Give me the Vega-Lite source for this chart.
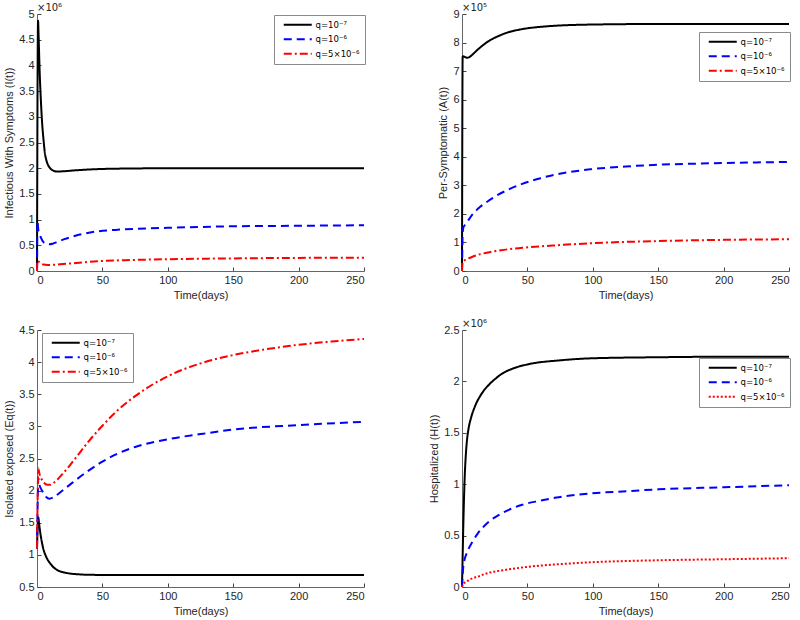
{
  "$schema": "https://vega.github.io/schema/vega-lite/v6.json",
  "background": "white",
  "padding": {"left": 3, "top": 3, "right": 2, "bottom": 2},
  "config": {
    "font": "Liberation Sans",
    "view": {"stroke": null},
    "axis": {"grid": false, "domainColor": "#666666", "tickColor": "#444444", "labelColor": "#262626", "titleColor": "#262626", "labelFontSize": 11, "titleFontSize": 11, "titleFontWeight": "normal", "tickSize": -4, "labelPadding": 7},
    "legend": {"orient": "none", "strokeColor": "#8a8a8a", "fillColor": "white", "padding": 5, "labelFont": "DejaVu Sans Condensed, DejaVu Sans", "labelFontSize": 9.5, "labelColor": "#000000", "symbolType": "M0,0H28", "symbolSize": 4, "symbolStrokeWidth": 2, "labelOffset": 27, "rowPadding": 3.5, "cornerRadius": 0},
    "title": {"font": "DejaVu Sans", "fontSize": 10, "fontWeight": "normal", "anchor": "start", "frame": "group", "color": "#262626", "offset": -5},
    "line": {"strokeWidth": 2, "interpolate": "monotone"}
  },
  "datasets": {
    "pI": [
      {"t":0,"q":"q=10⁻⁷","v":0},{"t":0.4,"q":"q=10⁻⁷","v":3.5},{"t":0.8,"q":"q=10⁻⁷","v":4.87},{"t":1.2,"q":"q=10⁻⁷","v":4.6},{"t":2,"q":"q=10⁻⁷","v":3.9},{"t":3,"q":"q=10⁻⁷","v":3.3},{"t":4,"q":"q=10⁻⁷","v":2.85},{"t":5,"q":"q=10⁻⁷","v":2.55},{"t":6,"q":"q=10⁻⁷","v":2.3},{"t":7,"q":"q=10⁻⁷","v":2.17},{"t":8,"q":"q=10⁻⁷","v":2.09},{"t":10,"q":"q=10⁻⁷","v":2.0},{"t":12,"q":"q=10⁻⁷","v":1.96},{"t":15,"q":"q=10⁻⁷","v":1.935},{"t":20,"q":"q=10⁻⁷","v":1.94},{"t":30,"q":"q=10⁻⁷","v":1.96},{"t":50,"q":"q=10⁻⁷","v":1.985},{"t":75,"q":"q=10⁻⁷","v":1.995},{"t":100,"q":"q=10⁻⁷","v":2.0},{"t":150,"q":"q=10⁻⁷","v":2.0},{"t":200,"q":"q=10⁻⁷","v":2.0},{"t":250,"q":"q=10⁻⁷","v":2.0},
      {"t":0,"q":"q=10⁻⁶","v":0},{"t":0.4,"q":"q=10⁻⁶","v":0.97},{"t":1,"q":"q=10⁻⁶","v":0.8},{"t":2,"q":"q=10⁻⁶","v":0.72},{"t":3,"q":"q=10⁻⁶","v":0.65},{"t":5,"q":"q=10⁻⁶","v":0.56},{"t":7,"q":"q=10⁻⁶","v":0.53},{"t":9.5,"q":"q=10⁻⁶","v":0.52},{"t":12,"q":"q=10⁻⁶","v":0.53},{"t":16,"q":"q=10⁻⁶","v":0.57},{"t":21,"q":"q=10⁻⁶","v":0.62},{"t":30,"q":"q=10⁻⁶","v":0.69},{"t":46,"q":"q=10⁻⁶","v":0.77},{"t":60,"q":"q=10⁻⁶","v":0.8},{"t":75,"q":"q=10⁻⁶","v":0.82},{"t":100,"q":"q=10⁻⁶","v":0.84},{"t":150,"q":"q=10⁻⁶","v":0.87},{"t":200,"q":"q=10⁻⁶","v":0.88},{"t":250,"q":"q=10⁻⁶","v":0.89},
      {"t":0,"q":"q=5×10⁻⁶","v":0},{"t":0.4,"q":"q=5×10⁻⁶","v":0.2},{"t":1,"q":"q=5×10⁻⁶","v":0.19},{"t":2,"q":"q=5×10⁻⁶","v":0.17},{"t":3,"q":"q=5×10⁻⁶","v":0.15},{"t":5,"q":"q=5×10⁻⁶","v":0.125},{"t":8,"q":"q=5×10⁻⁶","v":0.118},{"t":12,"q":"q=5×10⁻⁶","v":0.12},{"t":20,"q":"q=5×10⁻⁶","v":0.135},{"t":30,"q":"q=5×10⁻⁶","v":0.155},{"t":46,"q":"q=5×10⁻⁶","v":0.19},{"t":75,"q":"q=5×10⁻⁶","v":0.215},{"t":100,"q":"q=5×10⁻⁶","v":0.23},{"t":150,"q":"q=5×10⁻⁶","v":0.245},{"t":200,"q":"q=5×10⁻⁶","v":0.255},{"t":250,"q":"q=5×10⁻⁶","v":0.26}
    ],
    "pA": [
      {"t":0,"q":"q=10⁻⁷","v":0},{"t":0.5,"q":"q=10⁻⁷","v":7.5},{"t":1,"q":"q=10⁻⁷","v":7.52},{"t":2,"q":"q=10⁻⁷","v":7.5},{"t":4,"q":"q=10⁻⁷","v":7.47},{"t":6,"q":"q=10⁻⁷","v":7.5},{"t":8,"q":"q=10⁻⁷","v":7.58},{"t":11,"q":"q=10⁻⁷","v":7.71},{"t":15,"q":"q=10⁻⁷","v":7.87},{"t":21,"q":"q=10⁻⁷","v":8.07},{"t":28,"q":"q=10⁻⁷","v":8.23},{"t":34,"q":"q=10⁻⁷","v":8.34},{"t":46,"q":"q=10⁻⁷","v":8.47},{"t":60,"q":"q=10⁻⁷","v":8.55},{"t":72,"q":"q=10⁻⁷","v":8.59},{"t":98,"q":"q=10⁻⁷","v":8.63},{"t":150,"q":"q=10⁻⁷","v":8.65},{"t":250,"q":"q=10⁻⁷","v":8.65},
      {"t":0,"q":"q=10⁻⁶","v":0},{"t":0.5,"q":"q=10⁻⁶","v":1.3},{"t":1,"q":"q=10⁻⁶","v":1.52},{"t":3,"q":"q=10⁻⁶","v":1.65},{"t":8,"q":"q=10⁻⁶","v":1.98},{"t":14,"q":"q=10⁻⁶","v":2.25},{"t":21,"q":"q=10⁻⁶","v":2.48},{"t":28,"q":"q=10⁻⁶","v":2.68},{"t":34,"q":"q=10⁻⁶","v":2.82},{"t":46,"q":"q=10⁻⁶","v":3.05},{"t":60,"q":"q=10⁻⁶","v":3.25},{"t":72,"q":"q=10⁻⁶","v":3.38},{"t":98,"q":"q=10⁻⁶","v":3.56},{"t":125,"q":"q=10⁻⁶","v":3.66},{"t":150,"q":"q=10⁻⁶","v":3.72},{"t":200,"q":"q=10⁻⁶","v":3.78},{"t":250,"q":"q=10⁻⁶","v":3.82},
      {"t":0,"q":"q=5×10⁻⁶","v":0},{"t":0.5,"q":"q=5×10⁻⁶","v":0.33},{"t":1,"q":"q=5×10⁻⁶","v":0.35},{"t":3,"q":"q=5×10⁻⁶","v":0.4},{"t":8,"q":"q=5×10⁻⁶","v":0.5},{"t":14,"q":"q=5×10⁻⁶","v":0.59},{"t":21,"q":"q=5×10⁻⁶","v":0.66},{"t":30,"q":"q=5×10⁻⁶","v":0.73},{"t":46,"q":"q=5×10⁻⁶","v":0.81},{"t":72,"q":"q=5×10⁻⁶","v":0.9},{"t":98,"q":"q=5×10⁻⁶","v":0.97},{"t":150,"q":"q=5×10⁻⁶","v":1.05},{"t":200,"q":"q=5×10⁻⁶","v":1.09},{"t":250,"q":"q=5×10⁻⁶","v":1.11}
    ],
    "pE": [
      {"t":0,"q":"q=10⁻⁷","v":1.1},{"t":0.5,"q":"q=10⁻⁷","v":1.45},{"t":1,"q":"q=10⁻⁷","v":1.58},{"t":1.5,"q":"q=10⁻⁷","v":1.5},{"t":2,"q":"q=10⁻⁷","v":1.42},{"t":3,"q":"q=10⁻⁷","v":1.28},{"t":4,"q":"q=10⁻⁷","v":1.17},{"t":5,"q":"q=10⁻⁷","v":1.08},{"t":6,"q":"q=10⁻⁷","v":1.02},{"t":8,"q":"q=10⁻⁷","v":0.93},{"t":10,"q":"q=10⁻⁷","v":0.87},{"t":12,"q":"q=10⁻⁷","v":0.82},{"t":15,"q":"q=10⁻⁷","v":0.77},{"t":20,"q":"q=10⁻⁷","v":0.73},{"t":25,"q":"q=10⁻⁷","v":0.71},{"t":30,"q":"q=10⁻⁷","v":0.7},{"t":40,"q":"q=10⁻⁷","v":0.69},{"t":50,"q":"q=10⁻⁷","v":0.688},{"t":100,"q":"q=10⁻⁷","v":0.687},{"t":250,"q":"q=10⁻⁷","v":0.687},
      {"t":0,"q":"q=10⁻⁶","v":1.1},{"t":0.5,"q":"q=10⁻⁶","v":1.8},{"t":1,"q":"q=10⁻⁶","v":2.2},{"t":1.5,"q":"q=10⁻⁶","v":2.12},{"t":2,"q":"q=10⁻⁶","v":2.08},{"t":3,"q":"q=10⁻⁶","v":2.03},{"t":5,"q":"q=10⁻⁶","v":1.96},{"t":7,"q":"q=10⁻⁶","v":1.9},{"t":9.5,"q":"q=10⁻⁶","v":1.875},{"t":12,"q":"q=10⁻⁶","v":1.89},{"t":15,"q":"q=10⁻⁶","v":1.93},{"t":20,"q":"q=10⁻⁶","v":2.01},{"t":25,"q":"q=10⁻⁶","v":2.09},{"t":30,"q":"q=10⁻⁶","v":2.17},{"t":40,"q":"q=10⁻⁶","v":2.32},{"t":50,"q":"q=10⁻⁶","v":2.45},{"t":60,"q":"q=10⁻⁶","v":2.56},{"t":75,"q":"q=10⁻⁶","v":2.68},{"t":100,"q":"q=10⁻⁶","v":2.8},{"t":125,"q":"q=10⁻⁶","v":2.88},{"t":150,"q":"q=10⁻⁶","v":2.95},{"t":200,"q":"q=10⁻⁶","v":3.02},{"t":250,"q":"q=10⁻⁶","v":3.07},
      {"t":0,"q":"q=5×10⁻⁶","v":1.1},{"t":0.5,"q":"q=5×10⁻⁶","v":1.9},{"t":1,"q":"q=5×10⁻⁶","v":2.35},{"t":1.5,"q":"q=5×10⁻⁶","v":2.3},{"t":2,"q":"q=5×10⁻⁶","v":2.25},{"t":3,"q":"q=5×10⁻⁶","v":2.2},{"t":5,"q":"q=5×10⁻⁶","v":2.13},{"t":8,"q":"q=5×10⁻⁶","v":2.09},{"t":10,"q":"q=5×10⁻⁶","v":2.09},{"t":12,"q":"q=5×10⁻⁶","v":2.11},{"t":15,"q":"q=5×10⁻⁶","v":2.16},{"t":20,"q":"q=5×10⁻⁶","v":2.27},{"t":25,"q":"q=5×10⁻⁶","v":2.39},{"t":30,"q":"q=5×10⁻⁶","v":2.52},{"t":40,"q":"q=5×10⁻⁶","v":2.78},{"t":50,"q":"q=5×10⁻⁶","v":3.01},{"t":60,"q":"q=5×10⁻⁶","v":3.22},{"t":75,"q":"q=5×10⁻⁶","v":3.47},{"t":100,"q":"q=5×10⁻⁶","v":3.78},{"t":125,"q":"q=5×10⁻⁶","v":3.98},{"t":150,"q":"q=5×10⁻⁶","v":4.11},{"t":175,"q":"q=5×10⁻⁶","v":4.2},{"t":200,"q":"q=5×10⁻⁶","v":4.27},{"t":225,"q":"q=5×10⁻⁶","v":4.32},{"t":250,"q":"q=5×10⁻⁶","v":4.36}
    ],
    "pH": [
      {"t":0,"q":"q=10⁻⁷","v":0},{"t":0.5,"q":"q=10⁻⁷","v":0.3},{"t":1,"q":"q=10⁻⁷","v":0.6},{"t":1.5,"q":"q=10⁻⁷","v":0.85},{"t":2,"q":"q=10⁻⁷","v":1.05},{"t":3,"q":"q=10⁻⁷","v":1.3},{"t":4,"q":"q=10⁻⁷","v":1.45},{"t":5,"q":"q=10⁻⁷","v":1.54},{"t":7,"q":"q=10⁻⁷","v":1.65},{"t":10,"q":"q=10⁻⁷","v":1.76},{"t":15,"q":"q=10⁻⁷","v":1.88},{"t":20,"q":"q=10⁻⁷","v":1.96},{"t":25,"q":"q=10⁻⁷","v":2.02},{"t":30,"q":"q=10⁻⁷","v":2.07},{"t":40,"q":"q=10⁻⁷","v":2.13},{"t":50,"q":"q=10⁻⁷","v":2.165},{"t":75,"q":"q=10⁻⁷","v":2.205},{"t":100,"q":"q=10⁻⁷","v":2.225},{"t":150,"q":"q=10⁻⁷","v":2.235},{"t":200,"q":"q=10⁻⁷","v":2.24},{"t":250,"q":"q=10⁻⁷","v":2.24},
      {"t":0,"q":"q=10⁻⁶","v":0},{"t":0.5,"q":"q=10⁻⁶","v":0.12},{"t":1,"q":"q=10⁻⁶","v":0.2},{"t":2,"q":"q=10⁻⁶","v":0.27},{"t":3,"q":"q=10⁻⁶","v":0.31},{"t":5,"q":"q=10⁻⁶","v":0.37},{"t":8,"q":"q=10⁻⁶","v":0.44},{"t":12,"q":"q=10⁻⁶","v":0.52},{"t":16,"q":"q=10⁻⁶","v":0.58},{"t":21,"q":"q=10⁻⁶","v":0.64},{"t":28,"q":"q=10⁻⁶","v":0.7},{"t":34,"q":"q=10⁻⁶","v":0.74},{"t":46,"q":"q=10⁻⁶","v":0.8},{"t":60,"q":"q=10⁻⁶","v":0.84},{"t":72,"q":"q=10⁻⁶","v":0.87},{"t":98,"q":"q=10⁻⁶","v":0.91},{"t":123,"q":"q=10⁻⁶","v":0.93},{"t":150,"q":"q=10⁻⁶","v":0.95},{"t":200,"q":"q=10⁻⁶","v":0.97},{"t":250,"q":"q=10⁻⁶","v":0.99},
      {"t":0,"q":"q=5×10⁻⁶","v":0},{"t":1,"q":"q=5×10⁻⁶","v":0.03},{"t":3,"q":"q=5×10⁻⁶","v":0.05},{"t":5,"q":"q=5×10⁻⁶","v":0.065},{"t":8,"q":"q=5×10⁻⁶","v":0.085},{"t":12,"q":"q=5×10⁻⁶","v":0.1},{"t":16,"q":"q=5×10⁻⁶","v":0.12},{"t":21,"q":"q=5×10⁻⁶","v":0.14},{"t":30,"q":"q=5×10⁻⁶","v":0.16},{"t":46,"q":"q=5×10⁻⁶","v":0.19},{"t":72,"q":"q=5×10⁻⁶","v":0.22},{"t":98,"q":"q=5×10⁻⁶","v":0.24},{"t":150,"q":"q=5×10⁻⁶","v":0.26},{"t":200,"q":"q=5×10⁻⁶","v":0.27},{"t":250,"q":"q=5×10⁻⁶","v":0.28}
    ]
  },
  "columns": 2,
  "spacing": {"row": 19, "column": 60},
  "resolve": {"scale": {"x": "independent", "y": "independent", "color": "independent", "strokeDash": "independent"}, "legend": {"color": "independent", "strokeDash": "independent"}},
  "concat": [
    {
      "width": 327, "height": 257,
      "title": {"text": "×10⁶"},
      "data": {"name": "pI"},
      "mark": {"type": "line"},
      "encoding": {
        "x": {"field": "t", "type": "quantitative", "scale": {"domain": [0, 250]}, "axis": {"values": [0, 50, 100, 150, 200, 250], "title": "Time(days)"}},
        "y": {"field": "v", "type": "quantitative", "scale": {"domain": [0, 5]}, "axis": {"values": [0, 0.5, 1, 1.5, 2, 2.5, 3, 3.5, 4, 4.5, 5], "format": "~g", "title": "Infectious With Symptoms (I(t))"}},
        "color": {"field": "q", "type": "nominal", "scale": {"domain": ["q=10⁻⁷", "q=10⁻⁶", "q=5×10⁻⁶"], "range": ["#000000", "#0000ff", "#ff0000"]}, "legend": {"title": null, "legendX": 237, "legendY": 1}},
        "strokeDash": {"field": "q", "type": "nominal", "scale": {"domain": ["q=10⁻⁷", "q=10⁻⁶", "q=5×10⁻⁶"], "range": [[1, 0], [8, 5], [8, 3, 2, 3]]}, "legend": {"title": null, "legendX": 237, "legendY": 1}}
      }
    },
    {
      "width": 327, "height": 257,
      "title": {"text": "×10⁵"},
      "data": {"name": "pA"},
      "mark": {"type": "line"},
      "encoding": {
        "x": {"field": "t", "type": "quantitative", "scale": {"domain": [0, 250]}, "axis": {"values": [0, 50, 100, 150, 200, 250], "title": "Time(days)"}},
        "y": {"field": "v", "type": "quantitative", "scale": {"domain": [0, 9]}, "axis": {"values": [0, 1, 2, 3, 4, 5, 6, 7, 8, 9], "format": "~g", "title": "Per-Symptomatic (A(t))"}},
        "color": {"field": "q", "type": "nominal", "scale": {"domain": ["q=10⁻⁷", "q=10⁻⁶", "q=5×10⁻⁶"], "range": ["#000000", "#0000ff", "#ff0000"]}, "legend": {"title": null, "legendX": 237, "legendY": 18}},
        "strokeDash": {"field": "q", "type": "nominal", "scale": {"domain": ["q=10⁻⁷", "q=10⁻⁶", "q=5×10⁻⁶"], "range": [[1, 0], [8, 5], [8, 3, 2, 3]]}, "legend": {"title": null, "legendX": 237, "legendY": 18}}
      }
    },
    {
      "width": 327, "height": 257,
      "data": {"name": "pE"},
      "mark": {"type": "line"},
      "encoding": {
        "x": {"field": "t", "type": "quantitative", "scale": {"domain": [0, 250]}, "axis": {"values": [0, 50, 100, 150, 200, 250], "title": "Time(days)"}},
        "y": {"field": "v", "type": "quantitative", "scale": {"domain": [0.5, 4.5]}, "axis": {"values": [0.5, 1, 1.5, 2, 2.5, 3, 3.5, 4, 4.5], "format": "~g", "title": "Isolated exposed (Eq(t))"}},
        "color": {"field": "q", "type": "nominal", "scale": {"domain": ["q=10⁻⁷", "q=10⁻⁶", "q=5×10⁻⁶"], "range": ["#000000", "#0000ff", "#ff0000"]}, "legend": {"title": null, "legendX": 5, "legendY": 3}},
        "strokeDash": {"field": "q", "type": "nominal", "scale": {"domain": ["q=10⁻⁷", "q=10⁻⁶", "q=5×10⁻⁶"], "range": [[1, 0], [8, 5], [8, 3, 2, 3]]}, "legend": {"title": null, "legendX": 5, "legendY": 3}}
      }
    },
    {
      "width": 327, "height": 257,
      "title": {"text": "×10⁶"},
      "data": {"name": "pH"},
      "mark": {"type": "line"},
      "encoding": {
        "x": {"field": "t", "type": "quantitative", "scale": {"domain": [0, 250]}, "axis": {"values": [0, 50, 100, 150, 200, 250], "title": "Time(days)"}},
        "y": {"field": "v", "type": "quantitative", "scale": {"domain": [0, 2.5]}, "axis": {"values": [0, 0.5, 1, 1.5, 2, 2.5], "format": "~g", "title": "Hospitalized (H(t))"}},
        "color": {"field": "q", "type": "nominal", "scale": {"domain": ["q=10⁻⁷", "q=10⁻⁶", "q=5×10⁻⁶"], "range": ["#000000", "#0000ff", "#ff0000"]}, "legend": {"title": null, "legendX": 237, "legendY": 28}},
        "strokeDash": {"field": "q", "type": "nominal", "scale": {"domain": ["q=10⁻⁷", "q=10⁻⁶", "q=5×10⁻⁶"], "range": [[1, 0], [8, 5], [2, 2]]}, "legend": {"title": null, "legendX": 237, "legendY": 28}}
      }
    }
  ]
}
